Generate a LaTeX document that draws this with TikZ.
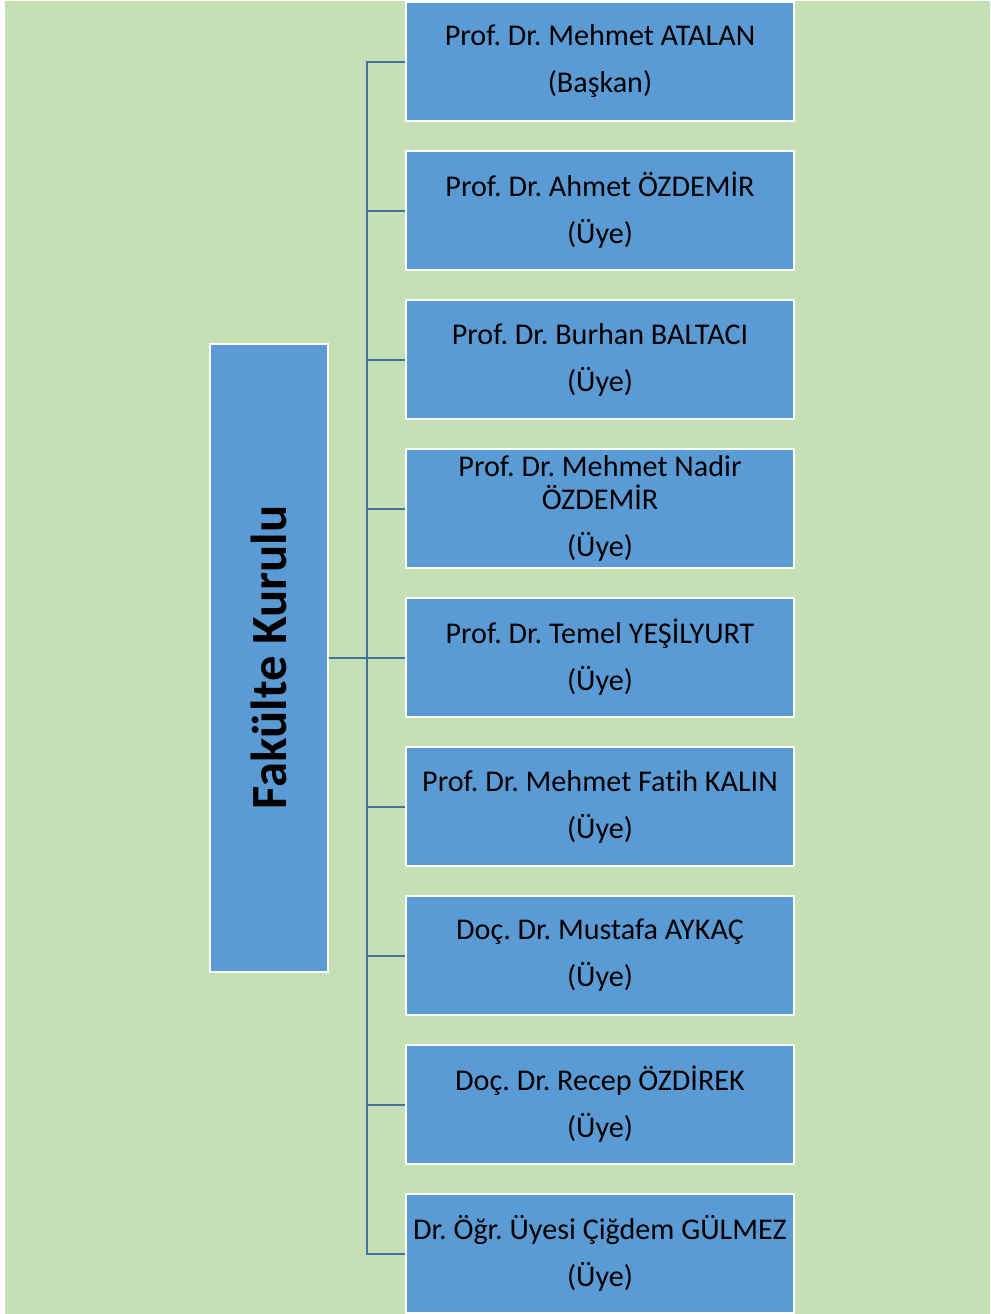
\documentclass[tikz,border=0pt]{standalone}
\usepackage{fontspec}
\setmainfont{Carlito}[RawFeature=-liga]
\usepackage{tikz}
\frenchspacing
\definecolor{bggreen}{HTML}{C5E0B4}
\definecolor{boxblue}{HTML}{5B9BD5}
\definecolor{linkblue}{HTML}{41719C}
\tikzset{
    every node/.style={rectangle, draw=white, line width=1.5pt, fill=boxblue, inner sep=0mm, align=center},
    member/.style={minimum width=291pt, minimum height=89.25pt, font=\fontsize{22.6}{24.75}\selectfont},
    head/.style={rotate=90, minimum width=471pt, minimum height=88.5pt, font=\fontsize{38}{44}\selectfont\bfseries},
    link/.style={draw=linkblue, line width=1.5pt}
}

\begin{document}
\begin{tikzpicture}[x=0.75pt, y=-0.75pt]
        \useasboundingbox (0,0) rectangle (990,1314);
        \fill [bggreen] (5,1) rectangle (990,1314);
        \node (head) [head] at (269,657.5) {Fakülte Kurulu};
        \node (m1) [member] at (600,61.5) {Prof. Dr. Mehmet ATALAN\\[10.5pt](Başkan)};
        \node (m2) [member] at (600,210.5) {Prof. Dr. Ahmet ÖZDEMİR\\[10.5pt](Üye)};
        \node (m3) [member] at (600,359.5) {Prof. Dr. Burhan BALTACI\\[10.5pt](Üye)};
        \node (m4) [member] at (600,508.5) {Prof. Dr. Mehmet Nadir\\ÖZDEMİR\\[10.5pt](Üye)};
        \node (m5) [member] at (600,657.5) {Prof. Dr. Temel YEŞİLYURT\\[10.5pt](Üye)};
        \node (m6) [member] at (600,806.5) {Prof. Dr. Mehmet Fatih KALIN\\[10.5pt](Üye)};
        \node (m7) [member] at (600,955.5) {Doç. Dr. Mustafa AYKAÇ\\[10.5pt](Üye)};
        \node (m8) [member] at (600,1104.5) {Doç. Dr. Recep ÖZDİREK\\[10.5pt](Üye)};
        \node (m9) [member] at (600,1253.5) {Dr. Öğr. Üyesi Çiğdem GÜLMEZ\\[10.5pt](Üye)};
        \coordinate (trunk) at (367,657.5);
        \draw [link] (head.south) -- (trunk);
        \draw [link] (trunk) |- (m1.west);
        \draw [link] (trunk) |- (m2.west);
        \draw [link] (trunk) |- (m3.west);
        \draw [link] (trunk) |- (m4.west);
        \draw [link] (trunk) -- (m5.west);
        \draw [link] (trunk) |- (m6.west);
        \draw [link] (trunk) |- (m7.west);
        \draw [link] (trunk) |- (m8.west);
        \draw [link] (trunk) |- (m9.west);
\end{tikzpicture}
\end{document}
